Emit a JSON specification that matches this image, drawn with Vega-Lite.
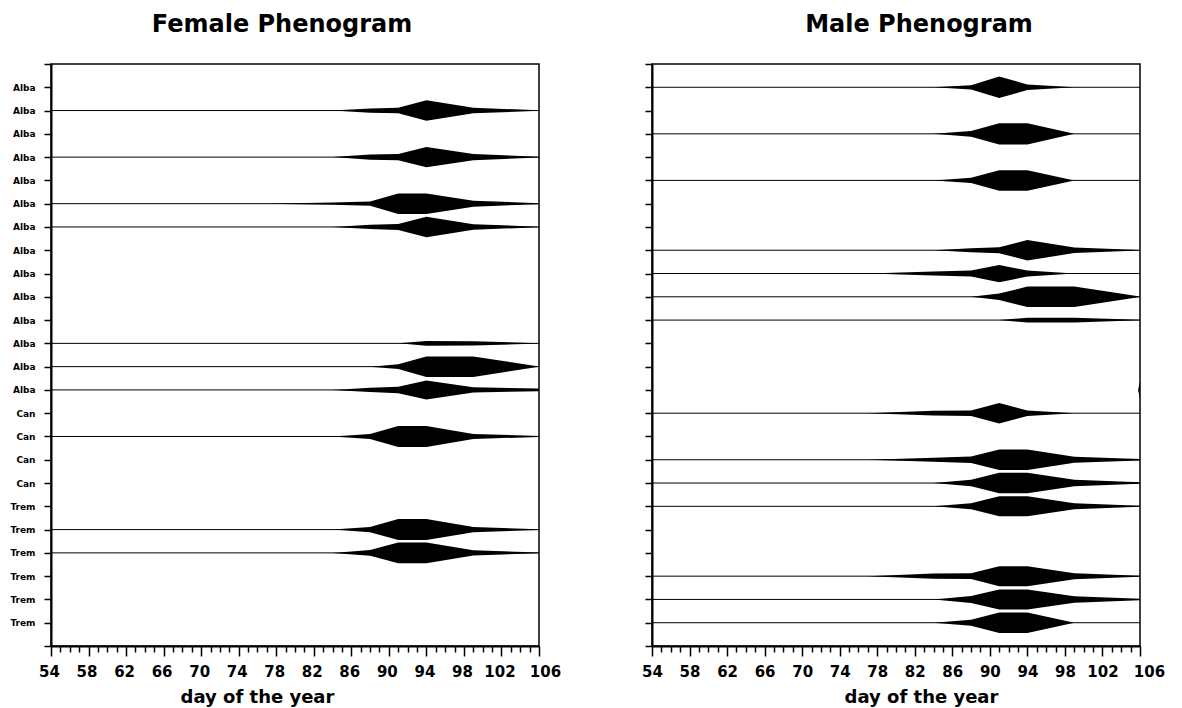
{
  "$schema": "https://vega.github.io/schema/vega-lite/v6.json",
  "background": "white",
  "padding": {"left": 9, "top": 12, "right": 10, "bottom": 1},
  "bounds": "flush",
  "spacing": 113,
  "config": {
    "font": "DejaVu Sans",
    "view": {"stroke": "black", "strokeWidth": 1.5},
    "axis": {
      "grid": false,
      "domainColor": "black",
      "domainWidth": 2,
      "tickColor": "black",
      "tickWidth": 1.5,
      "labelColor": "black",
      "titleColor": "black",
      "labelFont": "DejaVu Sans",
      "titleFont": "DejaVu Sans",
      "labelFontWeight": "bold",
      "titleFontWeight": "bold"
    },
    "title": {"font": "DejaVu Sans", "fontWeight": "bold", "fontSize": 24, "color": "black"}
  },
  "datasets": {
    "lines": [
      {"p": "F", "r": 2}, {"p": "F", "r": 4}, {"p": "F", "r": 6}, {"p": "F", "r": 7}, {"p": "F", "r": 12},
      {"p": "F", "r": 13}, {"p": "F", "r": 14}, {"p": "F", "r": 16}, {"p": "F", "r": 20}, {"p": "F", "r": 21},
      {"p": "M", "r": 1}, {"p": "M", "r": 3}, {"p": "M", "r": 5}, {"p": "M", "r": 8}, {"p": "M", "r": 9},
      {"p": "M", "r": 10}, {"p": "M", "r": 11}, {"p": "M", "r": 15}, {"p": "M", "r": 17}, {"p": "M", "r": 18},
      {"p": "M", "r": 19}, {"p": "M", "r": 22}, {"p": "M", "r": 23}, {"p": "M", "r": 24}
    ],
    "shapes": [
      {"p": "F", "r": 2, "d": 84, "lo": 2, "hi": 2},
      {"p": "F", "r": 2, "d": 88, "lo": 1.91, "hi": 2.09},
      {"p": "F", "r": 2, "d": 91, "lo": 1.88, "hi": 2.12},
      {"p": "F", "r": 2, "d": 94, "lo": 1.56, "hi": 2.44},
      {"p": "F", "r": 2, "d": 99, "lo": 1.88, "hi": 2.12},
      {"p": "F", "r": 2, "d": 106, "lo": 1.99, "hi": 2.01},
      {"p": "F", "r": 4, "d": 84, "lo": 4, "hi": 4},
      {"p": "F", "r": 4, "d": 88, "lo": 3.89, "hi": 4.11},
      {"p": "F", "r": 4, "d": 91, "lo": 3.87, "hi": 4.13},
      {"p": "F", "r": 4, "d": 94, "lo": 3.56, "hi": 4.44},
      {"p": "F", "r": 4, "d": 99, "lo": 3.87, "hi": 4.13},
      {"p": "F", "r": 4, "d": 106, "lo": 3.98, "hi": 4.02},
      {"p": "F", "r": 6, "d": 77, "lo": 6, "hi": 6},
      {"p": "F", "r": 6, "d": 84, "lo": 5.95, "hi": 6.05},
      {"p": "F", "r": 6, "d": 88, "lo": 5.91, "hi": 6.09},
      {"p": "F", "r": 6, "d": 91, "lo": 5.56, "hi": 6.44},
      {"p": "F", "r": 6, "d": 94, "lo": 5.56, "hi": 6.44},
      {"p": "F", "r": 6, "d": 99, "lo": 5.87, "hi": 6.13},
      {"p": "F", "r": 6, "d": 106, "lo": 5.98, "hi": 6.02},
      {"p": "F", "r": 7, "d": 84, "lo": 7, "hi": 7},
      {"p": "F", "r": 7, "d": 88, "lo": 6.91, "hi": 7.09},
      {"p": "F", "r": 7, "d": 91, "lo": 6.87, "hi": 7.13},
      {"p": "F", "r": 7, "d": 94, "lo": 6.56, "hi": 7.44},
      {"p": "F", "r": 7, "d": 99, "lo": 6.88, "hi": 7.12},
      {"p": "F", "r": 7, "d": 106, "lo": 6.99, "hi": 7.01},
      {"p": "F", "r": 12, "d": 91, "lo": 12, "hi": 12},
      {"p": "F", "r": 12, "d": 94, "lo": 11.9, "hi": 12.1},
      {"p": "F", "r": 12, "d": 99, "lo": 11.91, "hi": 12.09},
      {"p": "F", "r": 12, "d": 106, "lo": 11.99, "hi": 12.01},
      {"p": "F", "r": 13, "d": 88, "lo": 13, "hi": 13},
      {"p": "F", "r": 13, "d": 91, "lo": 12.9, "hi": 13.1},
      {"p": "F", "r": 13, "d": 94, "lo": 12.56, "hi": 13.44},
      {"p": "F", "r": 13, "d": 99, "lo": 12.56, "hi": 13.44},
      {"p": "F", "r": 13, "d": 106, "lo": 12.99, "hi": 13.01},
      {"p": "F", "r": 14, "d": 84, "lo": 14, "hi": 14},
      {"p": "F", "r": 14, "d": 88, "lo": 13.91, "hi": 14.09},
      {"p": "F", "r": 14, "d": 91, "lo": 13.86, "hi": 14.14},
      {"p": "F", "r": 14, "d": 94, "lo": 13.59, "hi": 14.41},
      {"p": "F", "r": 14, "d": 99, "lo": 13.89, "hi": 14.11},
      {"p": "F", "r": 14, "d": 106, "lo": 13.94, "hi": 14.06},
      {"p": "F", "r": 16, "d": 84, "lo": 16, "hi": 16},
      {"p": "F", "r": 16, "d": 88, "lo": 15.89, "hi": 16.11},
      {"p": "F", "r": 16, "d": 91, "lo": 15.55, "hi": 16.45},
      {"p": "F", "r": 16, "d": 94, "lo": 15.55, "hi": 16.45},
      {"p": "F", "r": 16, "d": 99, "lo": 15.89, "hi": 16.11},
      {"p": "F", "r": 16, "d": 106, "lo": 15.98, "hi": 16.02},
      {"p": "F", "r": 20, "d": 84, "lo": 20, "hi": 20},
      {"p": "F", "r": 20, "d": 88, "lo": 19.89, "hi": 20.11},
      {"p": "F", "r": 20, "d": 91, "lo": 19.55, "hi": 20.45},
      {"p": "F", "r": 20, "d": 94, "lo": 19.55, "hi": 20.45},
      {"p": "F", "r": 20, "d": 99, "lo": 19.89, "hi": 20.11},
      {"p": "F", "r": 20, "d": 106, "lo": 19.98, "hi": 20.02},
      {"p": "F", "r": 21, "d": 84, "lo": 21, "hi": 21},
      {"p": "F", "r": 21, "d": 88, "lo": 20.88, "hi": 21.12},
      {"p": "F", "r": 21, "d": 91, "lo": 20.55, "hi": 21.45},
      {"p": "F", "r": 21, "d": 94, "lo": 20.55, "hi": 21.45},
      {"p": "F", "r": 21, "d": 99, "lo": 20.89, "hi": 21.11},
      {"p": "F", "r": 21, "d": 106, "lo": 20.98, "hi": 21.02},
      {"p": "M", "r": 1, "d": 84, "lo": 1, "hi": 1},
      {"p": "M", "r": 1, "d": 88, "lo": 0.91, "hi": 1.09},
      {"p": "M", "r": 1, "d": 91, "lo": 0.54, "hi": 1.46},
      {"p": "M", "r": 1, "d": 94, "lo": 0.88, "hi": 1.12},
      {"p": "M", "r": 1, "d": 99, "lo": 1, "hi": 1},
      {"p": "M", "r": 3, "d": 84, "lo": 3, "hi": 3},
      {"p": "M", "r": 3, "d": 88, "lo": 2.88, "hi": 3.12},
      {"p": "M", "r": 3, "d": 91, "lo": 2.54, "hi": 3.46},
      {"p": "M", "r": 3, "d": 94, "lo": 2.54, "hi": 3.46},
      {"p": "M", "r": 3, "d": 99, "lo": 3, "hi": 3},
      {"p": "M", "r": 5, "d": 84, "lo": 5, "hi": 5},
      {"p": "M", "r": 5, "d": 88, "lo": 4.89, "hi": 5.11},
      {"p": "M", "r": 5, "d": 91, "lo": 4.56, "hi": 5.44},
      {"p": "M", "r": 5, "d": 94, "lo": 4.56, "hi": 5.44},
      {"p": "M", "r": 5, "d": 99, "lo": 5, "hi": 5},
      {"p": "M", "r": 8, "d": 84, "lo": 8, "hi": 8},
      {"p": "M", "r": 8, "d": 88, "lo": 7.91, "hi": 8.09},
      {"p": "M", "r": 8, "d": 91, "lo": 7.87, "hi": 8.13},
      {"p": "M", "r": 8, "d": 94, "lo": 7.56, "hi": 8.44},
      {"p": "M", "r": 8, "d": 99, "lo": 7.88, "hi": 8.12},
      {"p": "M", "r": 8, "d": 106, "lo": 7.99, "hi": 8.01},
      {"p": "M", "r": 9, "d": 77, "lo": 9, "hi": 9},
      {"p": "M", "r": 9, "d": 84, "lo": 8.91, "hi": 9.09},
      {"p": "M", "r": 9, "d": 88, "lo": 8.87, "hi": 9.13},
      {"p": "M", "r": 9, "d": 91, "lo": 8.63, "hi": 9.37},
      {"p": "M", "r": 9, "d": 94, "lo": 8.87, "hi": 9.13},
      {"p": "M", "r": 9, "d": 99, "lo": 9, "hi": 9},
      {"p": "M", "r": 10, "d": 88, "lo": 10, "hi": 10},
      {"p": "M", "r": 10, "d": 91, "lo": 9.86, "hi": 10.14},
      {"p": "M", "r": 10, "d": 94, "lo": 9.56, "hi": 10.44},
      {"p": "M", "r": 10, "d": 99, "lo": 9.56, "hi": 10.44},
      {"p": "M", "r": 10, "d": 106, "lo": 9.99, "hi": 10.01},
      {"p": "M", "r": 11, "d": 91, "lo": 11, "hi": 11},
      {"p": "M", "r": 11, "d": 94, "lo": 10.9, "hi": 11.1},
      {"p": "M", "r": 11, "d": 99, "lo": 10.9, "hi": 11.1},
      {"p": "M", "r": 11, "d": 106, "lo": 10.99, "hi": 11.01},
      {"p": "M", "r": 14, "d": 105.8, "lo": 14, "hi": 14},
      {"p": "M", "r": 14, "d": 106, "lo": 13.61, "hi": 14.39},
      {"p": "M", "r": 15, "d": 77, "lo": 15, "hi": 15},
      {"p": "M", "r": 15, "d": 84, "lo": 14.9, "hi": 15.1},
      {"p": "M", "r": 15, "d": 88, "lo": 14.88, "hi": 15.12},
      {"p": "M", "r": 15, "d": 91, "lo": 14.56, "hi": 15.44},
      {"p": "M", "r": 15, "d": 94, "lo": 14.88, "hi": 15.12},
      {"p": "M", "r": 15, "d": 99, "lo": 15, "hi": 15},
      {"p": "M", "r": 17, "d": 77, "lo": 17, "hi": 17},
      {"p": "M", "r": 17, "d": 84, "lo": 16.91, "hi": 17.09},
      {"p": "M", "r": 17, "d": 88, "lo": 16.86, "hi": 17.14},
      {"p": "M", "r": 17, "d": 91, "lo": 16.56, "hi": 17.44},
      {"p": "M", "r": 17, "d": 94, "lo": 16.56, "hi": 17.44},
      {"p": "M", "r": 17, "d": 99, "lo": 16.87, "hi": 17.13},
      {"p": "M", "r": 17, "d": 106, "lo": 16.97, "hi": 17.03},
      {"p": "M", "r": 18, "d": 84, "lo": 18, "hi": 18},
      {"p": "M", "r": 18, "d": 88, "lo": 17.86, "hi": 18.14},
      {"p": "M", "r": 18, "d": 91, "lo": 17.56, "hi": 18.44},
      {"p": "M", "r": 18, "d": 94, "lo": 17.56, "hi": 18.44},
      {"p": "M", "r": 18, "d": 99, "lo": 17.86, "hi": 18.14},
      {"p": "M", "r": 18, "d": 106, "lo": 17.97, "hi": 18.03},
      {"p": "M", "r": 19, "d": 84, "lo": 19, "hi": 19},
      {"p": "M", "r": 19, "d": 88, "lo": 18.87, "hi": 19.13},
      {"p": "M", "r": 19, "d": 91, "lo": 18.57, "hi": 19.43},
      {"p": "M", "r": 19, "d": 94, "lo": 18.57, "hi": 19.43},
      {"p": "M", "r": 19, "d": 99, "lo": 18.87, "hi": 19.13},
      {"p": "M", "r": 19, "d": 106, "lo": 18.98, "hi": 19.02},
      {"p": "M", "r": 22, "d": 77, "lo": 22, "hi": 22},
      {"p": "M", "r": 22, "d": 84, "lo": 21.89, "hi": 22.11},
      {"p": "M", "r": 22, "d": 88, "lo": 21.88, "hi": 22.12},
      {"p": "M", "r": 22, "d": 91, "lo": 21.57, "hi": 22.43},
      {"p": "M", "r": 22, "d": 94, "lo": 21.57, "hi": 22.43},
      {"p": "M", "r": 22, "d": 99, "lo": 21.87, "hi": 22.13},
      {"p": "M", "r": 22, "d": 106, "lo": 21.98, "hi": 22.02},
      {"p": "M", "r": 23, "d": 84, "lo": 23, "hi": 23},
      {"p": "M", "r": 23, "d": 88, "lo": 22.85, "hi": 23.15},
      {"p": "M", "r": 23, "d": 91, "lo": 22.57, "hi": 23.43},
      {"p": "M", "r": 23, "d": 94, "lo": 22.57, "hi": 23.43},
      {"p": "M", "r": 23, "d": 99, "lo": 22.86, "hi": 23.14},
      {"p": "M", "r": 23, "d": 106, "lo": 22.97, "hi": 23.03},
      {"p": "M", "r": 24, "d": 84, "lo": 24, "hi": 24},
      {"p": "M", "r": 24, "d": 88, "lo": 23.87, "hi": 24.13},
      {"p": "M", "r": 24, "d": 91, "lo": 23.56, "hi": 24.44},
      {"p": "M", "r": 24, "d": 94, "lo": 23.56, "hi": 24.44},
      {"p": "M", "r": 24, "d": 99, "lo": 24, "hi": 24}
    ]
  },
  "hconcat": [
    {
      "width": 488,
      "height": 582,
      "title": {"text": "Female Phenogram", "frame": "group", "anchor": "middle", "dx": -13, "baseline": "alphabetic", "offset": 4},
      "layer": [
        {
          "data": {"name": "shapes"},
          "transform": [{"filter": "datum.p == 'F'"}],
          "mark": {"type": "area", "color": "black", "orient": "vertical"},
          "encoding": {
            "x": {
              "field": "d", "type": "quantitative",
              "scale": {"domain": [54, 106], "nice": false, "zero": false},
              "axis": {
                "values": [54,55,56,57,58,59,60,61,62,63,64,65,66,67,68,69,70,71,72,73,74,75,76,77,78,79,80,81,82,83,84,85,86,87,88,89,90,91,92,93,94,95,96,97,98,99,100,101,102,103,104,105,106],
                "tickSize": {"condition": {"test": "datum.value % 4 == 2", "value": 10}, "value": 6},
                "labelExpr": "datum.value % 4 == 2 ? datum.label : ''",
                "labelFontSize": 15,
                "labelPadding": 8,
                "labelOverlap": false,
                "labelFlush": false,
                "labelBound": false,
                "labelOffset": {"condition": {"test": "datum.value == 106", "value": 6}, "value": -2},
                "title": "day of the year",
                "titleFontSize": 18,
                "titleX": 206,
                "titleY": 56,
                "titleBaseline": "alphabetic"
              }
            },
            "y": {
              "field": "lo", "type": "quantitative",
              "scale": {"domain": [0, 25], "reverse": true, "nice": false, "zero": false},
              "axis": {
                "values": [0,1,2,3,4,5,6,7,8,9,10,11,12,13,14,15,16,17,18,19,20,21,22,23,24,25],
                "tickSize": 7,
                "labelExpr": "datum.value < 1 || datum.value > 24 ? '' : datum.value <= 14 ? 'Alba' : datum.value <= 18 ? 'Can' : 'Trem'",
                "labelFontSize": 9,
                "labelPadding": 9,
                "labelOverlap": false,
                "labelBound": false,
                "labelFlush": false,
                "title": null
              }
            },
            "y2": {"field": "hi"},
            "detail": {"field": "r", "type": "nominal"}
          }
        },
        {
          "data": {"name": "lines"},
          "transform": [{"filter": "datum.p == 'F'"}],
          "mark": {"type": "rule", "color": "black", "strokeWidth": 1},
          "encoding": {
            "x": {
              "datum": 54, "type": "quantitative",
              "scale": {"domain": [54, 106], "nice": false, "zero": false},
              "axis": {
                "values": [54,55,56,57,58,59,60,61,62,63,64,65,66,67,68,69,70,71,72,73,74,75,76,77,78,79,80,81,82,83,84,85,86,87,88,89,90,91,92,93,94,95,96,97,98,99,100,101,102,103,104,105,106],
                "tickSize": {"condition": {"test": "datum.value % 4 == 2", "value": 10}, "value": 6},
                "labelExpr": "datum.value % 4 == 2 ? datum.label : ''",
                "labelFontSize": 15,
                "labelPadding": 8,
                "labelOverlap": false,
                "labelFlush": false,
                "labelBound": false,
                "labelOffset": {"condition": {"test": "datum.value == 106", "value": 6}, "value": -2},
                "title": "day of the year",
                "titleFontSize": 18,
                "titleX": 206,
                "titleY": 56,
                "titleBaseline": "alphabetic"
              }
            },
            "x2": {"datum": 106},
            "y": {
              "field": "r", "type": "quantitative",
              "scale": {"domain": [0, 25], "reverse": true, "nice": false, "zero": false},
              "axis": {
                "values": [0,1,2,3,4,5,6,7,8,9,10,11,12,13,14,15,16,17,18,19,20,21,22,23,24,25],
                "tickSize": 7,
                "labelExpr": "datum.value < 1 || datum.value > 24 ? '' : datum.value <= 14 ? 'Alba' : datum.value <= 18 ? 'Can' : 'Trem'",
                "labelFontSize": 9,
                "labelPadding": 9,
                "labelOverlap": false,
                "labelBound": false,
                "labelFlush": false,
                "title": null
              }
            }
          }
        }
      ]
    },
    {
      "width": 488,
      "height": 582,
      "title": {"text": "Male Phenogram", "frame": "group", "anchor": "middle", "dx": 23, "baseline": "alphabetic", "offset": 7},
      "layer": [
        {
          "data": {"name": "shapes"},
          "transform": [{"filter": "datum.p == 'M'"}],
          "mark": {"type": "area", "color": "black", "orient": "vertical"},
          "encoding": {
            "x": {
              "field": "d", "type": "quantitative",
              "scale": {"domain": [54, 106], "nice": false, "zero": false},
              "axis": {
                "values": [54,55,56,57,58,59,60,61,62,63,64,65,66,67,68,69,70,71,72,73,74,75,76,77,78,79,80,81,82,83,84,85,86,87,88,89,90,91,92,93,94,95,96,97,98,99,100,101,102,103,104,105,106],
                "tickSize": {"condition": {"test": "datum.value % 4 == 2", "value": 10}, "value": 6},
                "labelExpr": "datum.value % 4 == 2 ? datum.label : ''",
                "labelFontSize": 15,
                "labelPadding": 8,
                "labelOverlap": false,
                "labelFlush": false,
                "labelBound": false,
                "labelOffset": {"condition": {"test": "datum.value == 106", "value": 9}, "value": 0},
                "title": "day of the year",
                "titleFontSize": 18,
                "titleX": 269,
                "titleY": 56,
                "titleBaseline": "alphabetic"
              }
            },
            "y": {
              "field": "lo", "type": "quantitative",
              "scale": {"domain": [0, 25], "reverse": true, "nice": false, "zero": false},
              "axis": {
                "values": [0,1,2,3,4,5,6,7,8,9,10,11,12,13,14,15,16,17,18,19,20,21,22,23,24,25],
                "tickSize": 7,
                "labels": false,
                "title": null
              }
            },
            "y2": {"field": "hi"},
            "detail": {"field": "r", "type": "nominal"}
          }
        },
        {
          "data": {"name": "lines"},
          "transform": [{"filter": "datum.p == 'M'"}],
          "mark": {"type": "rule", "color": "black", "strokeWidth": 1},
          "encoding": {
            "x": {
              "datum": 54, "type": "quantitative",
              "scale": {"domain": [54, 106], "nice": false, "zero": false},
              "axis": {
                "values": [54,55,56,57,58,59,60,61,62,63,64,65,66,67,68,69,70,71,72,73,74,75,76,77,78,79,80,81,82,83,84,85,86,87,88,89,90,91,92,93,94,95,96,97,98,99,100,101,102,103,104,105,106],
                "tickSize": {"condition": {"test": "datum.value % 4 == 2", "value": 10}, "value": 6},
                "labelExpr": "datum.value % 4 == 2 ? datum.label : ''",
                "labelFontSize": 15,
                "labelPadding": 8,
                "labelOverlap": false,
                "labelFlush": false,
                "labelBound": false,
                "labelOffset": {"condition": {"test": "datum.value == 106", "value": 9}, "value": 0},
                "title": "day of the year",
                "titleFontSize": 18,
                "titleX": 269,
                "titleY": 56,
                "titleBaseline": "alphabetic"
              }
            },
            "x2": {"datum": 106},
            "y": {
              "field": "r", "type": "quantitative",
              "scale": {"domain": [0, 25], "reverse": true, "nice": false, "zero": false},
              "axis": {
                "values": [0,1,2,3,4,5,6,7,8,9,10,11,12,13,14,15,16,17,18,19,20,21,22,23,24,25],
                "tickSize": 7,
                "labels": false,
                "title": null
              }
            }
          }
        }
      ]
    }
  ]
}
